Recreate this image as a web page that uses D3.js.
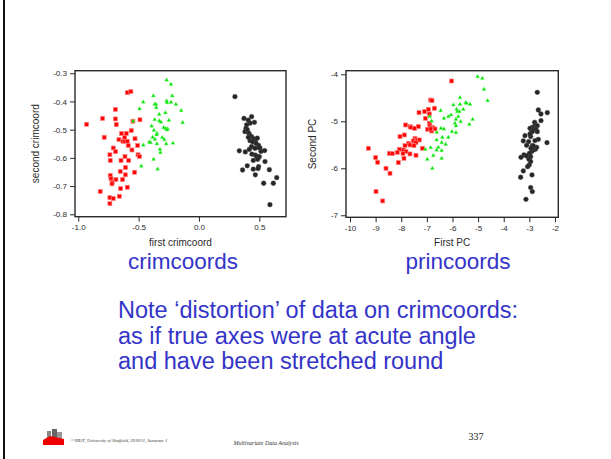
<!DOCTYPE html>
<html><head><meta charset="utf-8">
<script src="https://cdn.jsdelivr.net/npm/d3@7"></script>
<style>body{margin:0;background:#fff}svg{display:block}</style>
</head><body>
<script>
// ---------- DATA ----------
const crimRed = [[-0.931,-0.481],[-0.798,-0.460],[-0.785,-0.527],[-0.594,-0.369],[-0.564,-0.365],[-0.693,-0.428],[-0.693,-0.462],[-0.685,-0.482],[-0.547,-0.470],[-0.489,-0.465],[-0.641,-0.514],[-0.602,-0.513],[-0.561,-0.503],[-0.663,-0.535],[-0.630,-0.541],[-0.613,-0.541],[-0.594,-0.541],[-0.616,-0.527],[-0.530,-0.532],[-0.710,-0.565],[-0.691,-0.578],[-0.738,-0.589],[-0.735,-0.609],[-0.646,-0.609],[-0.613,-0.595],[-0.583,-0.609],[-0.586,-0.556],[-0.555,-0.572],[-0.508,-0.556],[-0.505,-0.589],[-0.494,-0.595],[-0.608,-0.634],[-0.652,-0.648],[-0.533,-0.651],[-0.610,-0.660],[-0.735,-0.662],[-0.729,-0.674],[-0.688,-0.677],[-0.633,-0.677],[-0.718,-0.686],[-0.721,-0.692],[-0.649,-0.709],[-0.594,-0.704],[-0.818,-0.719],[-0.738,-0.741],[-0.710,-0.744],[-0.660,-0.736],[-0.738,-0.762]];
const crimGreen = [[-0.268,-0.324],[-0.232,-0.339],[-0.378,-0.380],[-0.221,-0.380],[-0.461,-0.402],[-0.367,-0.410],[-0.356,-0.410],[-0.268,-0.398],[-0.265,-0.404],[-0.232,-0.403],[-0.191,-0.410],[-0.492,-0.426],[-0.354,-0.422],[-0.147,-0.432],[-0.279,-0.440],[-0.329,-0.446],[-0.367,-0.464],[-0.329,-0.469],[-0.315,-0.473],[-0.249,-0.467],[-0.135,-0.475],[-0.392,-0.487],[-0.293,-0.493],[-0.276,-0.496],[-0.260,-0.497],[-0.265,-0.501],[-0.373,-0.502],[-0.348,-0.513],[-0.351,-0.518],[-0.384,-0.527],[-0.365,-0.534],[-0.304,-0.528],[-0.287,-0.535],[-0.412,-0.544],[-0.401,-0.546],[-0.348,-0.550],[-0.271,-0.550],[-0.215,-0.548],[-0.461,-0.555],[-0.323,-0.570],[-0.320,-0.581],[-0.376,-0.605],[-0.478,-0.629],[-0.343,-0.640],[-0.545,-0.470]];
const crimBlack = [[0.298,-0.383],[0.373,-0.460],[0.408,-0.466],[0.436,-0.454],[0.459,-0.474],[0.423,-0.477],[0.395,-0.483],[0.390,-0.495],[0.381,-0.507],[0.401,-0.501],[0.414,-0.513],[0.423,-0.522],[0.436,-0.525],[0.450,-0.532],[0.467,-0.536],[0.483,-0.530],[0.423,-0.539],[0.445,-0.543],[0.472,-0.548],[0.494,-0.556],[0.483,-0.563],[0.505,-0.565],[0.514,-0.577],[0.544,-0.574],[0.334,-0.575],[0.384,-0.579],[0.417,-0.570],[0.439,-0.587],[0.467,-0.590],[0.478,-0.595],[0.500,-0.596],[0.486,-0.605],[0.450,-0.609],[0.547,-0.613],[0.400,-0.628],[0.361,-0.643],[0.494,-0.631],[0.450,-0.640],[0.489,-0.638],[0.583,-0.642],[0.467,-0.660],[0.644,-0.670],[0.536,-0.690],[0.616,-0.690],[0.588,-0.766],[0.436,-0.560],[0.464,-0.566],[0.409,-0.527]];
const pcRed = [[-6.033,-4.142],[-6.852,-4.546],[-6.800,-4.560],[-6.943,-4.745],[-6.709,-4.723],[-7.086,-4.794],[-7.307,-4.816],[-7.060,-4.936],[-6.904,-4.844],[-6.904,-5.043],[-6.878,-5.099],[-6.774,-5.135],[-6.683,-5.163],[-6.813,-5.206],[-6.969,-5.170],[-6.852,-5.163],[-7.828,-5.078],[-7.659,-5.113],[-7.620,-5.128],[-7.477,-5.149],[-7.334,-5.113],[-7.880,-5.291],[-8.049,-5.326],[-7.464,-5.362],[-7.399,-5.397],[-7.295,-5.397],[-7.529,-5.418],[-7.425,-5.454],[-7.711,-5.468],[-7.659,-5.504],[-7.854,-5.518],[-7.503,-5.518],[-7.177,-5.574],[-8.075,-5.596],[-7.919,-5.610],[-7.815,-5.645],[-8.153,-5.660],[-8.465,-5.681],[-8.348,-5.688],[-7.932,-5.681],[-7.659,-5.695],[-7.425,-5.723],[-9.285,-5.574],[-7.893,-5.787],[-8.998,-5.773],[-8.920,-5.872],[-8.114,-5.879],[-8.595,-6.000],[-8.439,-6.106],[-8.985,-6.496],[-8.725,-6.695]];
const pcGreen = [[-5.018,-4.050],[-4.836,-4.085],[-4.771,-4.319],[-4.628,-4.560],[-5.707,-4.496],[-5.486,-4.603],[-5.447,-4.617],[-5.317,-4.638],[-5.707,-4.638],[-5.967,-4.652],[-5.577,-4.745],[-5.837,-4.745],[-5.811,-4.794],[-6.059,-4.865],[-6.163,-4.901],[-6.462,-4.773],[-6.332,-4.936],[-5.733,-4.794],[-5.772,-4.901],[-5.863,-4.957],[-5.681,-5.007],[-5.902,-5.043],[-5.213,-4.957],[-5.343,-5.064],[-6.891,-4.901],[-6.813,-4.993],[-5.863,-5.099],[-6.020,-5.220],[-5.863,-5.241],[-6.449,-5.149],[-6.332,-5.163],[-6.618,-5.234],[-6.397,-5.340],[-6.163,-5.340],[-6.618,-5.397],[-6.423,-5.454],[-6.267,-5.489],[-6.852,-5.560],[-6.553,-5.553],[-7.060,-5.596],[-6.618,-5.610],[-6.423,-5.624],[-6.748,-5.730],[-6.423,-5.787],[-6.982,-5.809],[-6.787,-6.000]];
const pcBlack = [[-2.690,-4.383],[-2.650,-4.759],[-2.546,-4.844],[-2.299,-4.816],[-2.546,-4.986],[-2.793,-5.021],[-2.780,-5.092],[-2.690,-5.092],[-2.884,-5.128],[-2.975,-5.149],[-2.741,-5.170],[-2.845,-5.170],[-2.910,-5.199],[-2.690,-5.220],[-3.171,-5.305],[-2.949,-5.326],[-2.650,-5.383],[-2.780,-5.411],[-3.236,-5.418],[-3.028,-5.433],[-2.312,-5.454],[-3.106,-5.511],[-2.884,-5.518],[-2.715,-5.553],[-2.767,-5.596],[-2.845,-5.610],[-2.910,-5.645],[-2.998,-5.681],[-3.210,-5.716],[-3.327,-5.766],[-3.106,-5.738],[-2.949,-5.752],[-3.015,-5.809],[-2.949,-5.858],[-3.002,-5.929],[-3.067,-5.965],[-2.897,-6.142],[-3.236,-6.057],[-3.340,-6.191],[-2.949,-6.411],[-2.884,-6.496],[-3.132,-6.660],[-2.884,-5.220],[-2.975,-5.270],[-2.845,-5.525],[-2.936,-5.574]];
const crimXTicks = [-1.0, -0.5, 0.0, 0.5];
const crimYTicks = [-0.3, -0.4, -0.5, -0.6, -0.7, -0.8];
const pcXTicks = [-10, -9, -8, -7, -6, -5, -4, -3, -2];
const pcYTicks = [-4, -5, -6, -7];
const noteLines = ["Note \u2018distortion\u2019 of data on crimcoords:", "as if true axes were at acute angle", "and have been stretched round"];

// ---------- DRAW ----------
const W = 611, H = 459;
const svg = d3.select("body").append("svg").attr("width", W).attr("height", H);
svg.append("rect").attr("width", W).attr("height", H).attr("fill", "#fff");
svg.append("rect").attr("x", 3).attr("y", 0).attr("width", 2).attr("height", H).attr("fill", "#111");

const FONT = "Arial, 'Liberation Sans', sans-serif";
const AX = "#2a2a2a";
const BLUE = "#3434c8";
const hy = f => v => f(v).replace("\u2212", "-");

function panel(cfg) {
  const g = svg.append("g");
  const x = d3.scaleLinear().domain(cfg.xd).range([cfg.x0, cfg.x1]);
  const y = d3.scaleLinear().domain(cfg.yd).range([cfg.y1, cfg.y0]);
  const m = g.append("g");
  m.selectAll("rect.r").data(cfg.red).join("rect")
    .attr("x", d => x(d[0]) - 2).attr("y", d => y(d[1]) - 2)
    .attr("width", 4).attr("height", 4).attr("fill", "#f00")
    .attr("stroke", "#ff8080").attr("stroke-width", 0.7);
  const tri = d3.symbol().type(d3.symbolTriangle).size(7);
  m.selectAll("path.g").data(cfg.green).join("path")
    .attr("d", tri).attr("transform", d => `translate(${x(d[0])},${y(d[1])})`)
    .attr("fill", "#00e000").attr("stroke", "#80ff80").attr("stroke-width", 0.4);
  m.selectAll("circle.b").data(cfg.black).join("circle")
    .attr("cx", d => x(d[0])).attr("cy", d => y(d[1])).attr("r", 2.4)
    .attr("fill", "#262626").attr("stroke", "#555").attr("stroke-width", 0.4);
  g.append("rect").attr("x", cfg.x0).attr("y", cfg.y0)
    .attr("width", cfg.x1 - cfg.x0).attr("height", cfg.y1 - cfg.y0)
    .attr("fill", "none").attr("stroke", AX).attr("stroke-width", 1.4);
  const xa = g.append("g").attr("transform", `translate(0,${cfg.y1})`)
    .call(d3.axisBottom(x).tickValues(cfg.xt).tickSize(5).tickPadding(3).tickFormat(hy(cfg.xf)));
  const ya = g.append("g").attr("transform", `translate(${cfg.x0},0)`)
    .call(d3.axisLeft(y).tickValues(cfg.yt).tickSize(5).tickPadding(3).tickFormat(hy(cfg.yf)));
  [xa, ya].forEach(a => {
    a.select(".domain").remove();
    a.selectAll("line").attr("stroke", AX).attr("stroke-width", 1);
    a.selectAll("text").attr("fill", AX).style("font-family", FONT).style("font-size", "8px");
  });
  g.append("text").attr("x", (cfg.x0 + cfg.x1) / 2).attr("y", cfg.y1 + 29)
    .attr("text-anchor", "middle").attr("fill", AX).style("font-family", FONT).style("font-size", "10px")
    .text(cfg.xl);
  g.append("text").attr("transform", `translate(${cfg.ylx},${(cfg.y0 + cfg.y1) / 2}) rotate(-90)`)
    .attr("text-anchor", "middle").attr("fill", AX).style("font-family", FONT).style("font-size", "10px")
    .text(cfg.yl);
  g.append("text").attr("x", cfg.tx).attr("y", 269)
    .attr("text-anchor", "middle").attr("fill", BLUE).style("font-family", FONT).style("font-size", "22.5px")
    .text(cfg.title);
}

panel({x0: 75, x1: 286, y0: 70.7, y1: 216.7, xd: [-1.027, 0.721], yd: [-0.8085, -0.291],
  red: crimRed, green: crimGreen, black: crimBlack, xt: crimXTicks, yt: crimYTicks,
  xf: d3.format(".1f"), yf: d3.format(".1f"), xl: "first crimcoord", yl: "second crimcoord", ylx: 39,
  title: "crimcoords", tx: 183});
panel({x0: 346, x1: 558.3, y0: 70.7, y1: 217.3, xd: [-10.156, -1.87], yd: [-7.043, -3.923],
  red: pcRed, green: pcGreen, black: pcBlack, xt: pcXTicks, yt: pcYTicks,
  xf: d3.format("d"), yf: d3.format("d"), xl: "First PC", yl: "Second PC", ylx: 316,
  title: "princoords", tx: 458});

svg.append("g").selectAll("text").data(noteLines).join("text")
  .attr("x", 118).attr("y", (d, i) => 318 + i * 25.5)
  .attr("fill", BLUE).style("font-family", FONT).style("font-size", "23.5px")
  .text(d => d);

// footer logo
const logo = svg.append("g");
logo.append("rect").attr("x", 47).attr("y", 431).attr("width", 4).attr("height", 10).attr("fill", "#888");
logo.append("rect").attr("x", 52).attr("y", 429).attr("width", 5).attr("height", 12).attr("fill", "#666");
logo.append("rect").attr("x", 57).attr("y", 432).attr("width", 5).attr("height", 9).attr("fill", "#999");
logo.append("path").attr("d", "M43,445 L43,440 L50,436 L64,439 L64,445 Z").attr("fill", "#e00");
svg.append("text").attr("x", 71).attr("y", 442).attr("fill", "#333")
  .style("font-family", "'Liberation Serif', 'Times New Roman', serif").style("font-style", "italic").style("font-size", "4.6px")
  .text("\u00a9NRJF, University of Sheffield, 2010/11, Semester 1");
svg.append("text").attr("x", 266).attr("y", 445).attr("text-anchor", "middle").attr("fill", "#333")
  .style("font-family", "'Liberation Serif', 'Times New Roman', serif").style("font-style", "italic").style("font-size", "6px")
  .text("Multivariate Data Analysis");
svg.append("text").attr("x", 476).attr("y", 440).attr("text-anchor", "middle").attr("fill", "#222")
  .style("font-family", "'Liberation Serif', 'Times New Roman', serif").style("font-size", "10px")
  .text("337");
</script>
</body></html>
